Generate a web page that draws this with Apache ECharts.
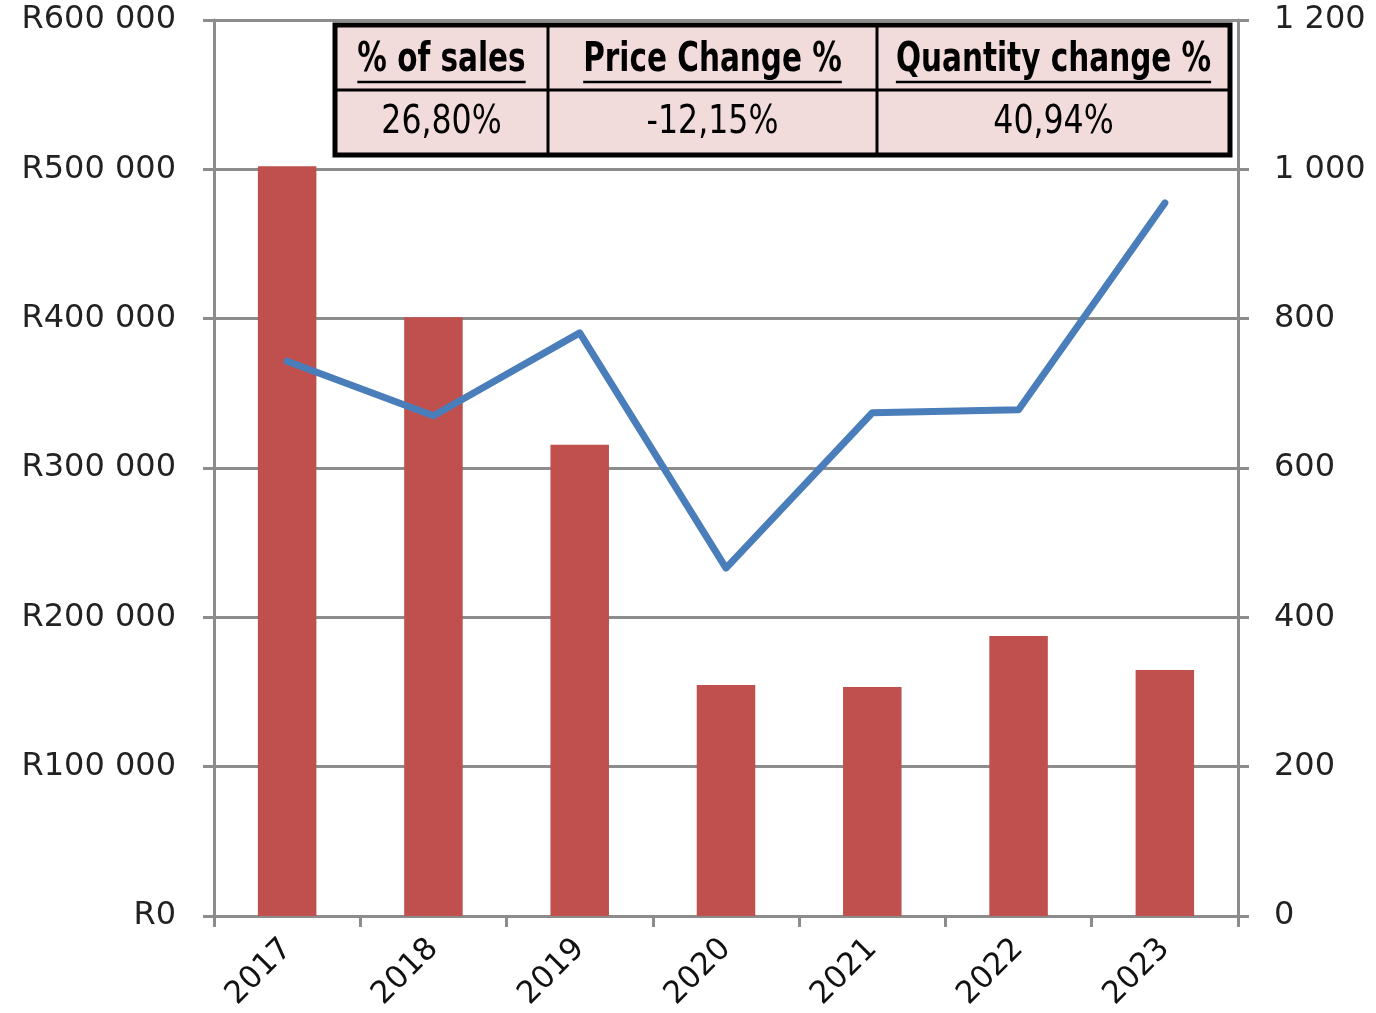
<!DOCTYPE html>
<html>
<head>
<meta charset="utf-8">
<script src="https://cdn.jsdelivr.net/npm/echarts@6/dist/echarts.min.js"></script>
<style>
  html, body { margin: 0; padding: 0; background: #fff; }
  #chart { width: 1376px; height: 1013px; }
</style>
</head>
<body>
<div id="chart"></div>
<script>
// data
const years = ['2017', '2018', '2019', '2020', '2021', '2022', '2023'];
const salesValues = [502000, 401000, 315500, 154700, 153400, 187500, 164800];
const quantityValues = [743, 670, 781, 466, 674, 678, 955];
const leftTicks = [0, 100000, 200000, 300000, 400000, 500000, 600000];
const rightTicks = [0, 200, 400, 600, 800, 1000, 1200];
const tableHeaders = ['% of sales', 'Price Change %', 'Quantity change %'];
const tableValues = ['26,80%', '-12,15%', '40,94%'];

const chart = echarts.init(document.getElementById('chart'));

const axisFont = 'DejaVu Sans';
const tableFont = '"DejaVu Sans Condensed", "DejaVu Sans", sans-serif';
const gray = '#8c8c8c';

function spaced(v) {
  return String(v).replace(/\B(?=(\d{3})+(?!\d))/g, ' ');
}

// measure text so the header underline fits the words
const ctx = document.createElement('canvas').getContext('2d');
function textWidth(str, font) {
  ctx.font = font;
  return ctx.measureText(str).width;
}

// table box geometry
const tbl = { x: 335, y: 25, w: 895, h: 130 };
const colEdges = [335, 548, 877, 1230];
const rowMid = 90;
const headScale = 0.8;   // squeeze to look like a narrow font
const valScale = 0.9;

const graphics = [];
graphics.push({
  type: 'rect',
  shape: { x: tbl.x, y: tbl.y, width: tbl.w, height: tbl.h },
  style: { fill: '#f2dcdb', stroke: '#000', lineWidth: 5 },
  z: 10
});
graphics.push({
  type: 'line',
  shape: { x1: tbl.x, y1: rowMid, x2: tbl.x + tbl.w, y2: rowMid },
  style: { stroke: '#000', lineWidth: 3 },
  z: 11
});
[1, 2].forEach(i => {
  graphics.push({
    type: 'line',
    shape: { x1: colEdges[i], y1: tbl.y, x2: colEdges[i], y2: tbl.y + tbl.h },
    style: { stroke: '#000', lineWidth: 3 },
    z: 11
  });
});
const headFont = 'bold 41px ' + tableFont;
tableHeaders.forEach((h, i) => {
  const cx = (colEdges[i] + colEdges[i + 1]) / 2;
  graphics.push({
    type: 'text',
    x: cx, y: 60,
    scaleX: headScale,
    style: {
      text: h, fill: '#000', font: headFont,
      align: 'center', verticalAlign: 'middle'
    },
    z: 12
  });
  const w = textWidth(h, headFont) * headScale;
  graphics.push({
    type: 'line',
    shape: { x1: cx - w / 2, y1: 82, x2: cx + w / 2, y2: 82 },
    style: { stroke: '#000', lineWidth: 2.5 },
    z: 12
  });
});
tableValues.forEach((v, i) => {
  const cx = (colEdges[i] + colEdges[i + 1]) / 2;
  graphics.push({
    type: 'text',
    x: cx, y: 123,
    scaleX: valScale,
    style: {
      text: v, fill: '#000', font: '39px ' + tableFont,
      align: 'center', verticalAlign: 'middle'
    },
    z: 12
  });
});

const option = {
  backgroundColor: '#fff',
  animation: false,
  grid: { left: 214, right: 138, top: 20, bottom: 97 },
  xAxis: {
    type: 'category',
    data: years,
    axisLine: { lineStyle: { color: gray, width: 3 } },
    axisTick: { show: true, length: 11, lineStyle: { color: gray, width: 3 } },
    axisLabel: {
      rotate: 45, color: '#111', fontFamily: axisFont, fontSize: 31, margin: 28
    }
  },
  yAxis: [
    {
      type: 'value',
      min: leftTicks[0],
      max: leftTicks[leftTicks.length - 1],
      interval: 100000,
      axisLine: { show: true, lineStyle: { color: gray, width: 3 } },
      axisTick: { show: true, length: 11, lineStyle: { color: gray, width: 3 } },
      splitLine: { lineStyle: { color: gray, width: 3 } },
      axisLabel: {
        color: '#222', fontFamily: axisFont, fontSize: 32, margin: 38,
        formatter: v => 'R' + spaced(v)
      }
    },
    {
      type: 'value',
      min: rightTicks[0],
      max: rightTicks[rightTicks.length - 1],
      interval: 200,
      axisLine: { show: true, lineStyle: { color: gray, width: 3 } },
      axisTick: { show: true, length: 11, lineStyle: { color: gray, width: 3 } },
      splitLine: { show: false },
      axisLabel: {
        color: '#222', fontFamily: axisFont, fontSize: 32, margin: 36,
        formatter: v => spaced(v)
      }
    }
  ],
  series: [
    {
      type: 'bar',
      data: salesValues,
      barWidth: '40%',
      itemStyle: { color: '#c0504d' },
      z: 2
    },
    {
      type: 'line',
      yAxisIndex: 1,
      data: quantityValues,
      showSymbol: false,
      symbol: 'none',
      lineStyle: { color: '#4a7ebb', width: 7, cap: 'round', join: 'round' },
      z: 3
    }
  ],
  graphic: graphics
};

chart.setOption(option);
</script>
</body>
</html>
